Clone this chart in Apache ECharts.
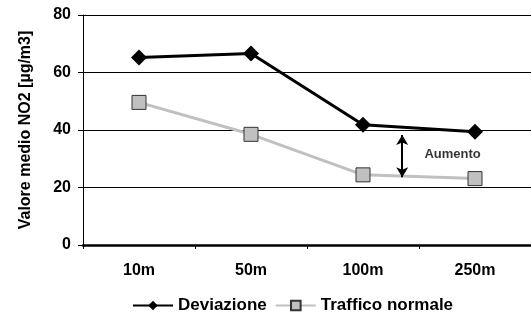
<!DOCTYPE html>
<html>
<head>
<meta charset="utf-8">
<script src="https://cdn.jsdelivr.net/npm/echarts@6/dist/echarts.min.js"></script>
<style>
  html, body { margin: 0; padding: 0; background: #fff; }
  #chart { width: 531px; height: 316px; }
</style>
</head>
<body>
<div id="chart"></div>
<script>
const categories = ['10m', '50m', '100m', '250m']
const deviazione = [65.2, 66.6, 41.8, 39.4]
const trafficoNormale = [49.6, 38.5, 24.4, 23.1]
const yTicks = { min: 0, max: 80, interval: 20 }
// arrow "Aumento" on a hidden value axis (category index units)
const arrowX = 2.35
const arrowFrom = 38.3
const arrowTo = 23.6
const arrowLabel = 'Aumento'
const arrowLabelPos = [2.8, 31.5]

const font = 'Liberation Sans, Arial, sans-serif'
const chart = echarts.init(document.getElementById('chart'), null, { renderer: 'canvas' })

chart.setOption({
  backgroundColor: '#fff',
  animation: false,
  grid: { left: 83, right: 0, top: 15, bottom: 71 },
  legend: {
    top: 292,
    left: 127,
    itemWidth: 40,
    itemHeight: 12,
    itemGap: 8,
    textStyle: { fontFamily: font, fontWeight: 'bold', fontSize: 17, color: '#000' },
    data: ['Deviazione', 'Traffico normale'],
  },
  xAxis: [
    {
      type: 'category',
      data: categories,
      axisLine: { onZero: false, lineStyle: { color: '#000', width: 2.5 } },
      axisTick: { show: true, length: 4, lineStyle: { color: '#000' } },
      axisLabel: { fontFamily: font, fontWeight: 'bold', fontSize: 16, color: '#000', margin: 18 },
    },
    {
      type: 'value',
      min: -0.5,
      max: 3.5,
      show: false,
    },
  ],
  yAxis: {
    type: 'value',
    min: yTicks.min,
    max: yTicks.max,
    interval: yTicks.interval,
    name: 'Valore medio NO2 [µg/m3]',
    nameLocation: 'middle',
    nameGap: 49,
    nameTextStyle: { fontFamily: font, fontWeight: 'bold', fontSize: 16, color: '#000' },
    axisLine: { show: true, onZero: false, lineStyle: { color: '#000', width: 1 } },
    axisTick: { show: true, length: 5, lineStyle: { color: '#000' } },
    axisLabel: { fontFamily: font, fontWeight: 'bold', fontSize: 16, color: '#000', margin: 12 },
    splitLine: { lineStyle: { color: '#000', width: 1 } },
  },
  series: [
    {
      name: 'Deviazione',
      type: 'line',
      data: deviazione,
      symbol: 'diamond',
      symbolSize: 16,
      lineStyle: { color: '#000', width: 3 },
      itemStyle: { color: '#000' },
      z: 3,
    },
    {
      name: 'Traffico normale',
      type: 'line',
      data: trafficoNormale,
      symbol: 'rect',
      symbolSize: 14,
      lineStyle: { color: '#c0c0c0', width: 3 },
      itemStyle: { color: '#c0c0c0', borderColor: '#333', borderWidth: 1 },
      z: 2,
    },
    {
      name: 'arrow',
      type: 'line',
      xAxisIndex: 1,
      data: [],
      markLine: {
        silent: true,
        symbol: ['arrow', 'arrow'],
        symbolSize: [9, 10],
        label: { show: false },
        lineStyle: { color: '#000', width: 2, type: 'solid' },
        data: [[{ coord: [arrowX, arrowFrom] }, { coord: [arrowX, arrowTo] }]],
      },
    },
    {
      name: 'label',
      type: 'scatter',
      xAxisIndex: 1,
      symbolSize: 0,
      data: [arrowLabelPos],
      label: {
        show: true,
        position: 'inside',
        formatter: arrowLabel,
        fontFamily: font,
        fontWeight: 'bold',
        fontSize: 13,
        color: '#000',
      },
    },
  ],
})
</script>
</body>
</html>
